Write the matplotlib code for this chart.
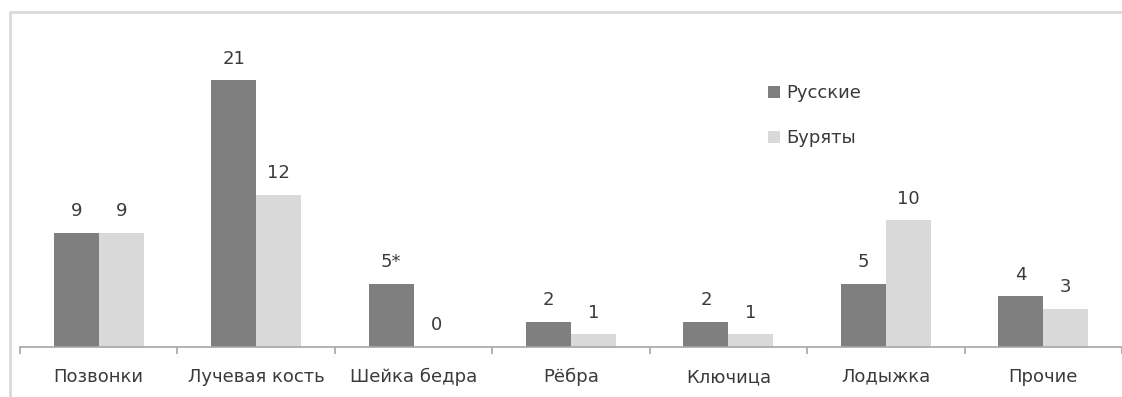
import numpy as np
import matplotlib.pyplot as plt
from matplotlib.patches import Rectangle

# data
categories = ['Позвонки', 'Лучевая кость', 'Шейка бедра', 'Рёбра', 'Ключица', 'Лодыжка', 'Прочие']
russians = [9, 21, 5, 2, 2, 5, 4]
buryats = [9, 12, 0, 1, 1, 10, 3]
russians_labels = ['9', '21', '5*', '2', '2', '5', '4']
buryats_labels = ['9', '12', '0', '1', '1', '10', '3']

plt.rcParams['font.family'] = ['DejaVu Sans']

fig = plt.figure(figsize=(11.22, 3.97), dpi=100)

# light outer chart border (cut off at right and bottom)
fig.patches.append(Rectangle((10/1122, -0.2), 1.2, 0.2 + (397-12)/397,
                             transform=fig.transFigure, fill=False,
                             edgecolor='#d9d9d9', lw=2))

ax = fig.add_axes([20/1122, 50/397, 1 - 20/1122, 307/397])

x = np.arange(len(categories))
w = 0.286
ax.bar(x - w/2, russians, w, color='#7f7f7f', label='Русские')
ax.bar(x + w/2, buryats, w, color='#d9d9d9', label='Буряты')

txt = '#3a3a3a'
for i in range(len(categories)):
    ax.annotate(russians_labels[i], (x[i] - w/2, russians[i]), xytext=(0, 9),
                textcoords='offset points', ha='center', va='bottom',
                fontsize=13, color=txt)
    ax.annotate(buryats_labels[i], (x[i] + w/2, buryats[i]), xytext=(0, 9),
                textcoords='offset points', ha='center', va='bottom',
                fontsize=13, color=txt)

ax.set_xlim(-0.5, len(categories) - 0.5)
ax.set_ylim(0, 307/12.7)

for s in ['top', 'right', 'left']:
    ax.spines[s].set_visible(False)
ax.spines['bottom'].set_color('#a6a6a6')
ax.spines['bottom'].set_linewidth(1.2)
ax.set_yticks([])
ax.set_xticks(x)
ax.set_xticklabels(categories, fontsize=13, color=txt)
ax.tick_params(axis='x', which='major', length=0, pad=15)
ax.set_xticks(np.arange(-0.5, len(categories)), minor=True)
ax.tick_params(axis='x', which='minor', length=5, color='#a6a6a6', width=1.2)

ax.legend(loc='upper left', bbox_to_anchor=(752/1122, (397-68)/397),
          bbox_transform=fig.transFigure, frameon=False, fontsize=13,
          handlelength=0.65, handleheight=0.65, handletextpad=0.35,
          labelspacing=1.5, labelcolor=txt)

fig.savefig('out.png', dpi=100)
